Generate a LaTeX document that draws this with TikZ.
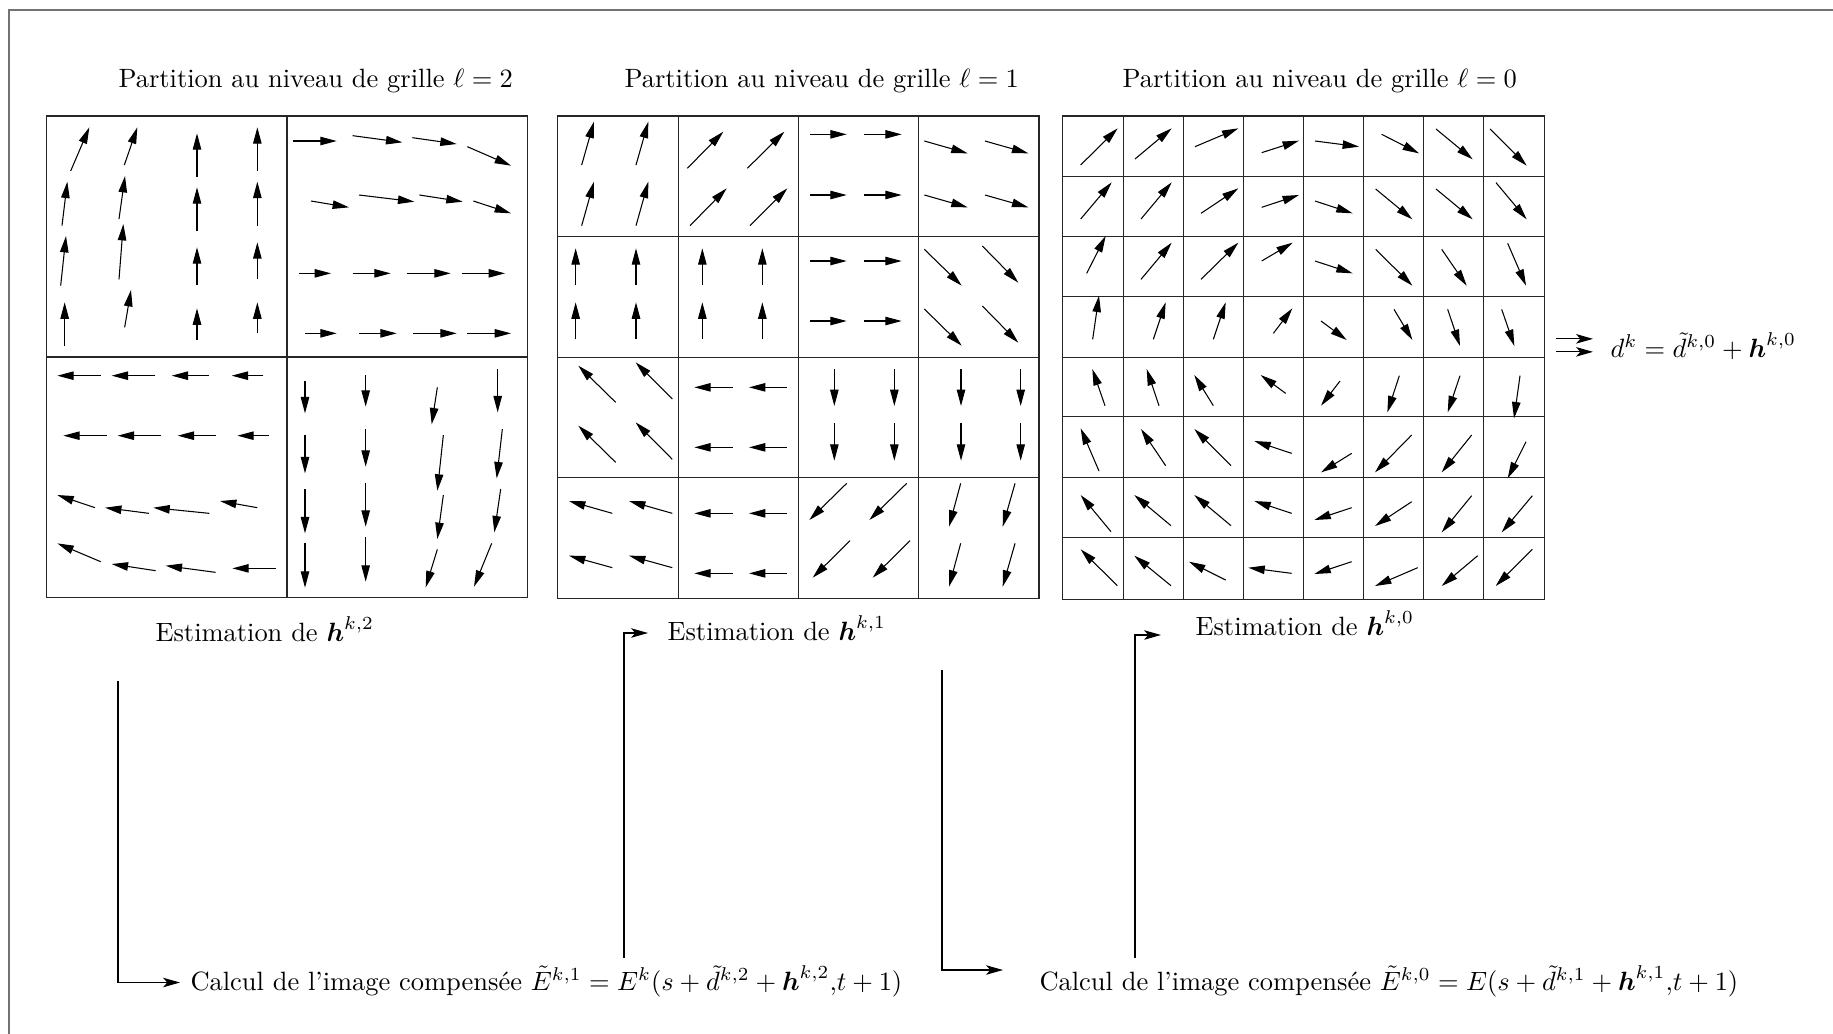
\documentclass[tikz,border=0pt]{standalone}
\usepackage{amsmath,amssymb}
\usetikzlibrary{arrows.meta,calc}
\tikzset{vec/.style={-{Triangle[length=6.2pt,width=3.2pt]}},
 conn/.style={-{Stealth[length=6.4pt,width=3.6pt,inset=1.6pt]}},
 cell/.style={line width=.4pt,draw=black!85},
 lbl/.style={anchor=west,inner sep=0pt},
 rim/.style={draw=black!55,line width=1.1pt}}

\begin{document}
\begin{tikzpicture}[x=.378pt,y=-.378pt]
\useasboundingbox (0,0) rectangle (1833,1034);
\draw[rim](9,1034)--(9,10)--(1833,10);
\node[lbl] (tl2) at (118,81) {Partition au niveau de grille $\ell=2$};
\node[lbl] (tl1) at (624,81) {Partition au niveau de grille $\ell=1$};
\node[lbl] (tl0) at (1122,81) {Partition au niveau de grille $\ell=0$};
% grid l=2
\begin{scope}[shift={(40,110)},x=.126pt,y=-.126pt]
\draw[cell](20,18)rectangle(1463,1463);\draw[cell](741,18)--(741,1463);\draw[cell](20,741)--(1463,741);
\foreach \a/\b/\c/\d in {92/183/148/52,253/165/292/52,471/202/471/70,652/183/652/52,
 66/347/82/215,237/327/255/198,471/362/471/232,652/347/652/215,
 62/527/78/378,237/508/250/342,471/525/471/412,652/508/652/397,
 74/707/74/577,254/652/273/540,471/689/471/595,652/670/652/577,
 760/93/890/93,938/77/1087/97,1117/83/1250/102,1282/110/1413/167,
 813/273/927/292,957/255/1123/275,1138/255/1268/275,1300/273/1413/310,
 777/490/873/490,938/490/1052/490,1102/490/1232/490,1265/490/1395/490,
 795/670/890/670,957/670/1070/670,1120/670/1250/670,1282/670/1413/670,
 182/797/52/797,346/797/215/797,507/797/395/797,670/797/575/797,
 200/977/70/977,363/977/233/977,527/977/413/977,688/977/592/977,
 165/1193/52/1155,327/1210/195/1193,508/1210/340/1193,652/1193/540/1173,
 182/1355/52/1300,347/1382/215/1362,527/1387/377/1367,707/1375/577/1375,
 795/813/795/910,977/795/977/890,1192/832/1175/943,1373/777/1373/907,
 795/975/795/1090,977/957/977/1070,1210/975/1192/1142,1387/957/1370/1105,
 795/1138/795/1270,977/1118/977/1250,1210/1155/1192/1287,1382/1137/1363/1267,
 795/1300/795/1433,977/1282/977/1415,1192/1318/1157/1432,1355/1300/1302/1430}
 {\draw[vec](\a,\b)--(\c,\d);}
\end{scope}
% grid l=1
\begin{scope}[shift={(550,110)},x=.126pt,y=-.126pt]
\draw[cell](22,18)rectangle(1467,1465);
\foreach \x in {385,745,1105}{\draw[cell](\x,18)--(\x,1465);}
\foreach \y in {380,742,1103}{\draw[cell](22,\y)--(1467,\y);}
\foreach \a/\b/\c/\d in {95/165/132/35,258/165/295/35,95/347/132/215,258/347/295/215,
 412/175/520/65,592/175/703/65,420/347/530/235,600/347/712/235,
 780/73/890/73,942/73/1055/73,780/255/890/255,942/255/1055/255,
 1123/93/1253/130,1305/93/1435/130,1123/255/1253/292,1305/255/1435/292,
 77/525/77/415,258/525/258/415,77/688/77/577,258/688/258/577,
 457/525/457/415,637/525/637/415,457/688/457/577,637/688/637/577,
 780/453/890/453,942/453/1055/453,780/633/890/633,942/633/1055/633,
 1123/418/1235/527,1297/408/1405/518,1123/597/1235/707,1297/588/1405/698,
 197/877/85/767,367/867/257/757,197/1057/85/947,367/1048/257/937,
 548/832/433/832,710/832/597/832,548/1012/433/1012,710/1012/597/1012,
 853/777/853/888,1033/777/1033/888,853/940/853/1052,1033/940/1033/1052,
 1233/777/1233/888,1412/777/1412/888,1233/940/1233/1052,1412/940/1412/1052,
 187/1210/57/1173,367/1210/237/1173,187/1373/57/1337,367/1373/237/1337,
 548/1210/433/1210,710/1210/597/1210,548/1390/433/1390,710/1390/597/1390,
 890/1120/778/1230,1070/1120/958/1230,900/1292/788/1403,1080/1292/968/1403,
 1232/1120/1197/1250,1395/1120/1358/1250,1232/1300/1197/1430,1395/1300/1358/1430}
 {\draw[vec](\a,\b)--(\c,\d);}
\end{scope}
% grid l=0
\begin{scope}[shift={(1055,110)},x=.126pt,y=-.126pt]
\draw[cell](22,18)rectangle(1467,1467);
\foreach \x in {205,385,565,745,925,1105,1285}{\draw[cell](\x,18)--(\x,1467);}
\foreach \y in {200,380,560,742,920,1102,1282}{\draw[cell](22,\y)--(1467,\y);}
\coordinate (g0) at (1467,706);
\foreach \a/\b/\c/\d in {77/165/188/55,240/147/350/55,420/110/550/55,620/128/732/92,
 780/93/912/110,980/73/1092/130,1143/57/1253/148,1305/57/1415/167,
 77/327/170/217,258/327/350/217,438/310/550/235,620/292/732/255,
 780/273/893/310,962/237/1072/328,1143/237/1253/328,1323/218/1415/328,
 95/490/152/378,258/508/350/398,438/508/550/398,620/453/713/398,
 780/453/893/490,962/418/1072/527,1160/418/1235/527,1358/400/1413/527,
 113/688/132/557,295/688/332/577,475/688/512/577,655/670/712/595,
 798/633/875/690,1017/598/1072/690,1178/598/1215/708,1340/598/1378/708,
 150/887/112/777,312/887/275/777,475/887/418/795,692/850/617/795,
 855/813/798/887,1033/797/997/907,1215/797/1178/907,1395/797/1377/925,
 132/1083/77/955,332/1067/258/957,528/1067/418/957,710/1030/598/993,
 890/1030/798/1087,1070/975/960/1087,1250/975/1160/1087,1413/995/1358/1105,
 168/1265/77/1155,348/1247/238/1155,528/1247/418/1155,710/1210/598/1173,
 890/1193/778/1230,1070/1175/960/1248,1250/1157/1160/1267,1432/1157/1340/1267,
 187/1427/77/1318,348/1427/238/1337,512/1410/402/1355,710/1390/580/1373,
 890/1355/778/1392,1088/1373/960/1428,1268/1337/1160/1428,1432/1318/1322/1428}
 {\draw[vec](\a,\b)--(\c,\d);}
\end{scope}
\node[lbl] (dk) at (1610,346) {$d^k=\tilde{d}^{k,0}+\boldsymbol{h}^{k,0}$};
\draw[conn]($(g0)+(12,-6.5)$)--($(g0 -| dk.west)+(-17,-6.5)$);
\draw[conn]($(g0)+(12,6.5)$)--($(g0 -| dk.west)+(-17,6.5)$);
\node[lbl] (es2) at (155,629) {Estimation de $\boldsymbol{h}^{k,2}$};
\node[lbl] (es1) at (667,628) {Estimation de $\boldsymbol{h}^{k,1}$};
\node[lbl] (es0) at (1195,623) {Estimation de $\boldsymbol{h}^{k,0}$};
\node[lbl] (cc1) at (190,981) {Calcul de l'image compensée $\tilde{E}^{k,1}=E^k(s+\tilde{d}^{k,2}+\boldsymbol{h}^{k,2}{,}t+1)$};
\node[lbl] (cc0) at (1039,981) {Calcul de l'image compensée $\tilde{E}^{k,0}=E(s+\tilde{d}^{k,1}+\boldsymbol{h}^{k,1}{,}t+1)$};
\coordinate (p2) at (118,681);\coordinate (p1) at (942,670);
\coordinate (q1) at (624,958);\coordinate (q0) at (1135,958);
\draw[conn](p2)|-($(cc1.west)+(-10,1.5)$);
\draw[conn](p1)|-($(cc0.west)+(-36,-11)$);
\draw[conn](q1)|-($(es1.west)+(-19,5)$);
\draw[conn](q0)|-($(es0.west)+(-34,12)$);
\end{tikzpicture}
\end{document}
